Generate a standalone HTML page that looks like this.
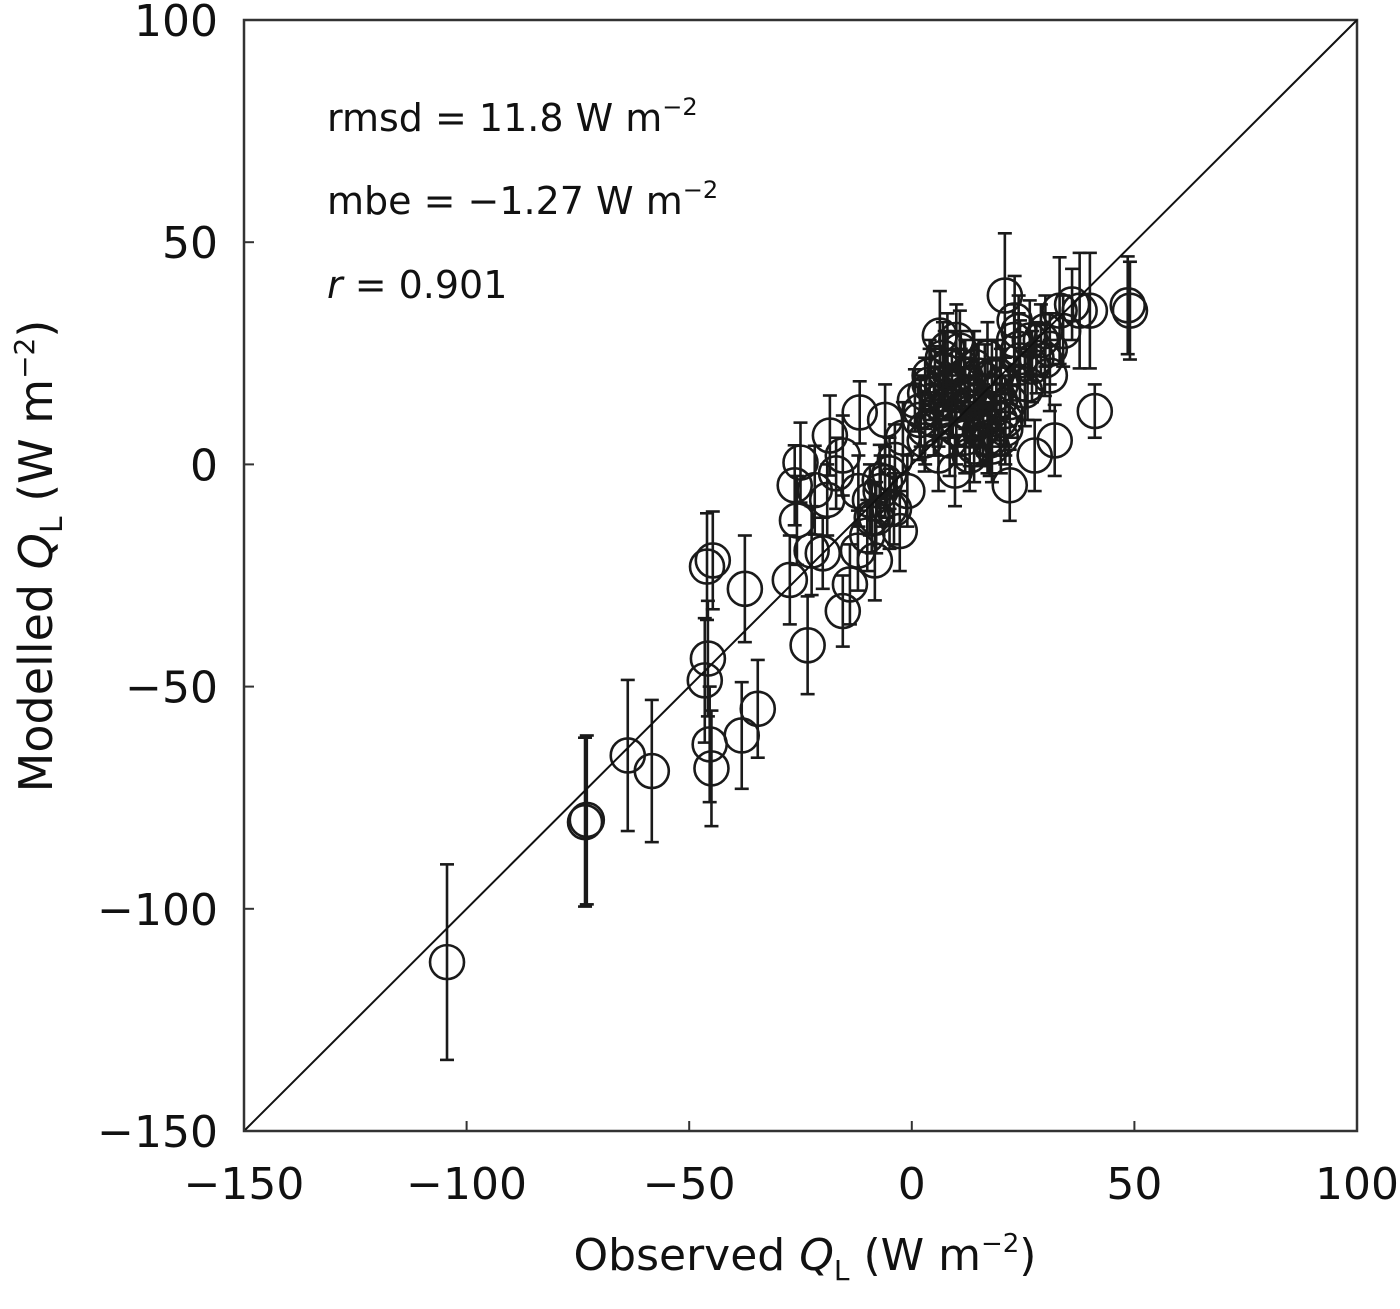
<!DOCTYPE html>
<html><head><meta charset="utf-8">
<style>
html,body{margin:0;padding:0;background:#fff;}
svg{display:block;font-family:"DejaVu Sans","Liberation Sans",sans-serif;}
</style></head>
<body>
<svg id="chart" width="1400" height="1309" viewBox="0 0 1400 1309">
<g id="marks"></g>
<g id="axes"></g>
<g font-size="38" fill="#111">
<text x="327" y="131">rmsd = 11.8 W m<tspan font-size="24" dy="-16">−2</tspan></text>
<text x="327" y="214">mbe = −1.27 W m<tspan font-size="24" dy="-16">−2</tspan></text>
<text x="327" y="298"><tspan font-style="italic">r</tspan> = 0.901</text>
</g>
<text x="805" y="1270" text-anchor="middle" font-size="44" fill="#111">Observed <tspan font-style="italic">Q</tspan><tspan font-size="28" dy="10">L</tspan><tspan dy="-10"> (W m</tspan><tspan font-size="26" dy="-18">−2</tspan><tspan dy="18">)</tspan></text>
<text transform="translate(52,556) rotate(-90)" text-anchor="middle" font-size="46" fill="#111">Modelled <tspan font-style="italic">Q</tspan><tspan font-size="30" dy="10">L</tspan><tspan dy="-10"> (W m</tspan><tspan font-size="28" dy="-18">−2</tspan><tspan dy="18">)</tspan></text>
</svg>
<script>
const xTicks=[-150,-100,-50,0,50,100];
const yTicks=[-150,-100,-50,0,50,100];
const obsX=[-104.4,-73.4,-73.0,-63.8,-58.4,-46.5,-45.8,-45.4,-45.0,-46.0,-44.7,-37.5,-38.2,-34.6,-27.4,-23.4,-26.3,-25.0,-25.8,-21.8,-22.5,-18.4,-15.5,-15.5,-13.9,-11.7,-12.1,-8.3,-7.2,-6.0,-5.0,-3.8,-2.7,-9.4,1.8,5.2,6.3,7.4,8.5,9.7,10.8,11.9,13.0,16.4,17.5,19.8,20.9,22.0,23.1,24.3,26.5,27.6,32.1,29.9,33.2,37.7,40.0,41.1,49.0,48.5,19.8,15.3,25.4,2.9,0.7,
4,6,8,10,12,14,16,18,20,22,5,7,9,11,13,15,17,19,21,23,3,6,9,12,15,18,21,24,10,14,-1,-4,-6,-8,-10,-12,26,28,30,31,34,36,-19,-20,-17,
2,4,6,8,10,12,14,16,18,20,3,5,7,9,11,13,15,17,19,21,24,27,29,31,-2,-5,-7,-9];
const modY=[-112,-80.5,-80,-65.5,-69,-48.6,-43.7,-63,-68.4,-23,-21.6,-28,-61,-55,-26,-40.7,-4.7,0.4,-12.6,-5.8,-19.4,6.5,2,-33,-27,11.7,-19.4,-21.6,-3.6,10,-10,1,-15,-8,10,16.6,29,21,5.4,-1.4,25.6,12,7.6,19,5.4,14.4,38,-4.7,32.4,23.4,27.9,2,5.4,23.4,34.6,34.6,34.6,12,34.6,35.8,10,7.6,16.6,5.4,14.4,
18,12,22,8,16,4,10,20,6,14,10,24,14,18,2,12,6,16,10,28,8,2,18,6,20,4,12,30,28,22,-6,-10,-4,-12,-16,-6,18,24,30,20,30,36,-8,-20,-2,
12,20,14,26,10,20,14,8,12,18,16,10,18,14,22,16,12,24,20,8,26,22,28,26,6,-2,-6,-12];
const errBar=[22,19,19,17,16,14,13,13,13,12,11,12,12,11,10,11,9,9,10,10,10,9,9,8,9,7,9,9,8,8,9,8,9,8,9,10,10,9,8,8,9,8,8,8,8,9,14,8,10,9,9,8,8,8,12,13,13,6,11,11,8,8,8,7,7,
8,8,8,8,8,8,8,8,8,8,8,8,8,8,8,8,8,8,8,8,8,8,8,8,8,8,8,8,8,8,8,8,8,8,8,8,8,8,8,8,8,8,8,8,8,
8,8,8,8,8,8,8,8,8,8,8,8,8,8,8,8,8,8,8,8,8,8,8,8,8,8,8,8];
const L=244,R=1357,T=20,B=1131,x0=-150,x1=100,y0=-150,y1=100;
const sx=v=>L+(v-x0)/(x1-x0)*(R-L);
const sy=v=>B-(v-y0)/(y1-y0)*(B-T);
const NS='http://www.w3.org/2000/svg';
function mk(t,a,p){const e=document.createElementNS(NS,t);for(const k in a)e.setAttribute(k,a[k]);p.appendChild(e);return e;}
const ax=document.getElementById('axes');
const box=mk('rect',{x:L,y:T,width:R-L,height:B-T,fill:'none',stroke:'#333','stroke-width':2.5},ax);


const diag=mk('line',{x1:sx(-150),y1:sy(-150),x2:sx(100),y2:sy(100),stroke:'#111','stroke-width':2},ax);


xTicks.forEach(v=>{
 const t=mk('line',{x1:sx(v),x2:sx(v),y1:B,y2:B-10,stroke:'#333','stroke-width':2},ax);
 
 
 const l=mk('text',{x:sx(v),y:B+68,'text-anchor':'middle','font-size':44,fill:'#111'},ax);
 
 
 l.textContent=v<0?'−'+(-v):String(v);
});
yTicks.forEach(v=>{
 const t=mk('line',{x1:L,x2:L+10,y1:sy(v),y2:sy(v),stroke:'#333','stroke-width':2},ax);
 
 
 const l=mk('text',{x:L-26,y:sy(v)+16,'text-anchor':'end','font-size':44,fill:'#111'},ax);
 
 
 l.textContent=v<0?'−'+(-v):String(v);
});
const mg=document.getElementById('marks');
obsX.forEach((xv,i)=>{
 const g=mk('g',{stroke:'#1a1a1a','stroke-width':2.6,fill:'none'},mg);
 
 
 const cx=sx(xv),cy=sy(modY[i]),e=errBar[i];
 const top=sy(modY[i]+e),bot=sy(modY[i]-e);
 mk('line',{x1:cx,x2:cx,y1:top,y2:bot},g);
 mk('line',{x1:cx-7,x2:cx+7,y1:top,y2:top},g);
 mk('line',{x1:cx-7,x2:cx+7,y1:bot,y2:bot},g);
 mk('circle',{cx:cx,cy:cy,r:17},g);
});
</script>
</body></html>
